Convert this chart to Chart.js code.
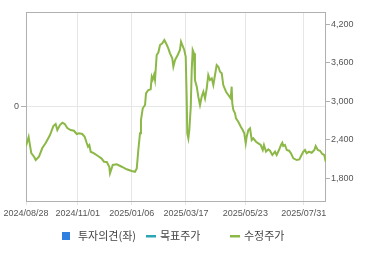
<!DOCTYPE html>
<html>
<head>
<meta charset="utf-8">
<script src="https://cdn.jsdelivr.net/npm/chart.js@4"></script>
<style>
    html, body { margin: 0; padding: 0; background: #fff; overflow: hidden; }
    #wrap { width: 370px; height: 255px; position: relative; }
</style>
</head>
<body>
<div id="wrap"><canvas id="priceChart" width="370" height="255"></canvas></div>
<script>
// 거래일 위치(시작일 기준)와 수정주가
const days = [0, 2.2, 4.4, 6.7, 8.1, 10.8, 13.6, 16.4, 20, 22.8,
    24.7, 26.1, 28.3, 30.3, 32.3, 34.4, 37.2, 40, 42.3, 44.2,
    46.9, 48.9, 50.6, 51.7, 52.8, 53.9, 56.7, 60, 62.8, 65,
    67.3, 69.4, 70, 72.3, 75.6, 79.8, 83.9, 88.1, 90.8, 92.3,
    93.6, 95, 95.8, 97.3, 99.2, 100, 101.9, 103.9, 104.8, 105.6,
    106.7, 107.5, 108.9, 110.3, 111.7, 113.6, 115.3, 116.7, 118.6, 120,
    121.9, 122.8, 124.2, 126.4, 128.3, 129.2, 130.3, 131.9, 133.1, 133.9,
    134.4, 135.3, 136.1, 137.3, 138.1, 138.9, 140, 140.8, 142.3, 143.6,
    145, 146.4, 147.8, 149.2, 150.6, 151.9, 153.3, 154.8, 156.1, 157.5,
    158.9, 160.3, 161.7, 163.1, 164.4, 166.7, 168.6, 170.6, 171.4, 171.9,
    172.8, 174.2, 175, 176.9, 179, 180.6, 181.9, 183.1, 183.9, 185.3,
    186.7, 188.1, 189.4, 191.7, 193.6, 195.6, 197.3, 198.3, 200, 201.9,
    203.3, 205.3, 207.5, 208.9, 210.8, 212.5, 213.6, 214.4, 215.8, 217.3,
    219.2, 220.8, 222.8, 225.6, 227.8, 229.2, 231.1, 232.5, 233.9, 235.8,
    238.1, 240.3, 241.4, 243.1, 245, 246.9, 248.6, 249.8];

const prices = [2302, 2442, 2193, 2136, 2084, 2136, 2271, 2349, 2473, 2613,
    2644, 2551, 2629, 2665, 2644, 2582, 2551, 2540, 2489, 2500,
    2489, 2447, 2349, 2291, 2318, 2214, 2189, 2147, 2111, 2058,
    2053, 1980, 1878, 2007, 2018, 1980, 1940, 1913, 1902, 1955,
    2240, 2500, 2707, 2889, 2940, 3122, 3173, 3184, 3380, 3340,
    3407, 3329, 3718, 3757, 3873, 3900, 3951, 3900, 3822, 3744,
    3666, 3536, 3640, 3718, 3796, 3925, 3873, 3796, 3691, 3069,
    2500, 2422, 2551, 2914, 3484, 3796, 3744, 3329, 3225, 3069,
    2940, 3069, 3147, 3044, 3200, 3407, 3329, 3355, 3251, 3407,
    3562, 3536, 3458, 3433, 3251, 3147, 3096, 3044, 3225, 2966,
    2862, 2811, 2733, 2680, 2602, 2551, 2500, 2344, 2447, 2551,
    2578, 2396, 2422, 2369, 2344, 2318, 2240, 2318, 2214, 2251,
    2229, 2162, 2214, 2162, 2240, 2318, 2354, 2302, 2318, 2240,
    2229, 2189, 2111, 2084, 2095, 2147, 2214, 2240, 2189, 2214,
    2198, 2240, 2302, 2240, 2229, 2178, 2162, 2058];

// x축 날짜 눈금
const tickDays = [0, 43.1, 88.1, 133.3, 182.8, 231.4];
const tickLabels = ['2024/08/28', '2024/11/01', '2025/01/06', '2025/03/17', '2025/05/23', '2025/07/31'];

// 오른쪽 축 눈금
const priceTicks = [1800, 2400, 3000, 3600, 4200];

const GREEN = '#8cb847';
const TEAL = '#2aa6b5';
const BLUE = '#2f7fe0';
const AXIS_FONT = { family: 'Liberation Sans', size: 9 };

// 차트 테두리
const framePlugin = {
    id: 'frame',
    beforeDatasetsDraw(chart) {
        const a = chart.chartArea;
        const ctx = chart.ctx;
        ctx.save();
        ctx.strokeStyle = '#b0b0b0';
        ctx.lineWidth = 1;
        ctx.strokeRect(Math.round(a.left) + 0.5, Math.round(a.top) + 0.5,
            Math.round(a.right - a.left) - 1, Math.round(a.bottom - a.top));
        ctx.restore();
    }
};

// 범례 (항목 폭 고정)
const legendPlugin = {
    id: 'fixedLegend',
    afterDraw(chart) {
        const ctx = chart.ctx;
        const y = 236;
        ctx.save();
        ctx.font = '11px "Noto Sans CJK KR"';
        ctx.textBaseline = 'middle';
        chart.data.datasets.forEach((ds, i) => {
            const x0 = 62 + i * 84;
            ctx.fillStyle = ds.borderColor;
            if (ds.type === 'bar') {
                ctx.fillRect(x0, y - 4, 8, 8);
                ctx.fillStyle = '#444';
                ctx.fillText(ds.label, x0 + 16, y);
            } else {
                ctx.fillRect(x0, y - 1, 10, 2.5);
                ctx.fillStyle = '#444';
                ctx.fillText(ds.label, x0 + 14, y);
            }
        });
        ctx.restore();
    }
};

const ctx = document.getElementById('priceChart').getContext('2d');
window.priceChart = new Chart(ctx, {
    data: {
        datasets: [{
            type: 'bar',
            label: '투자의견(좌)',
            data: [],
            backgroundColor: BLUE,
            borderColor: BLUE,
            yAxisID: 'y'
        }, {
            type: 'line',
            label: '목표주가',
            data: [],
            borderColor: TEAL,
            yAxisID: 'y2'
        }, {
            type: 'line',
            label: '수정주가',
            data: days.map((d, i) => ({ x: d, y: prices[i] })),
            borderColor: GREEN,
            borderWidth: 2,
            pointRadius: 0,
            tension: 0,
            yAxisID: 'y2'
        }]
    },
    options: {
        responsive: false,
        animation: false,
        layout: { padding: { top: 12, left: 0, right: 0, bottom: 0 } },
        plugins: {
            legend: { display: false },
            tooltip: { enabled: false }
        },
        scales: {
            x: {
                type: 'linear',
                min: 0,
                max: 250,
                offset: false,
                afterBuildTicks: axis => { axis.ticks = tickDays.map(v => ({ value: v })); },
                afterFit: axis => { axis.height = 54; },
                ticks: {
                    autoSkip: false,
                    maxRotation: 0,
                    padding: 3,
                    color: '#555',
                    font: AXIS_FONT,
                    callback: (v, i) => tickLabels[i]
                },
                grid: { offset: false, color: '#e6e6e6', tickLength: 4, tickColor: '#e6e6e6' },
                border: { display: false }
            },
            y: {
                position: 'left',
                min: -1,
                max: 1,
                afterBuildTicks: axis => { axis.ticks = [{ value: 0 }]; },
                afterFit: axis => { axis.width = 26; },
                ticks: { padding: 2, color: '#555', font: AXIS_FONT },
                grid: { color: '#e6e6e6', tickLength: 5, tickColor: '#b0b0b0' },
                border: { display: false }
            },
            y2: {
                position: 'right',
                min: 1447,
                max: 4387,
                afterBuildTicks: axis => { axis.ticks = priceTicks.map(v => ({ value: v })); },
                afterFit: axis => { axis.width = 44; },
                ticks: {
                    padding: 1,
                    color: '#555',
                    font: AXIS_FONT,
                    callback: v => v.toLocaleString('en-US')
                },
                grid: { drawOnChartArea: false, tickLength: 4, tickColor: '#b0b0b0' },
                border: { display: false }
            }
        }
    },
    plugins: [framePlugin, legendPlugin]
});
</script>
</body>
</html>
